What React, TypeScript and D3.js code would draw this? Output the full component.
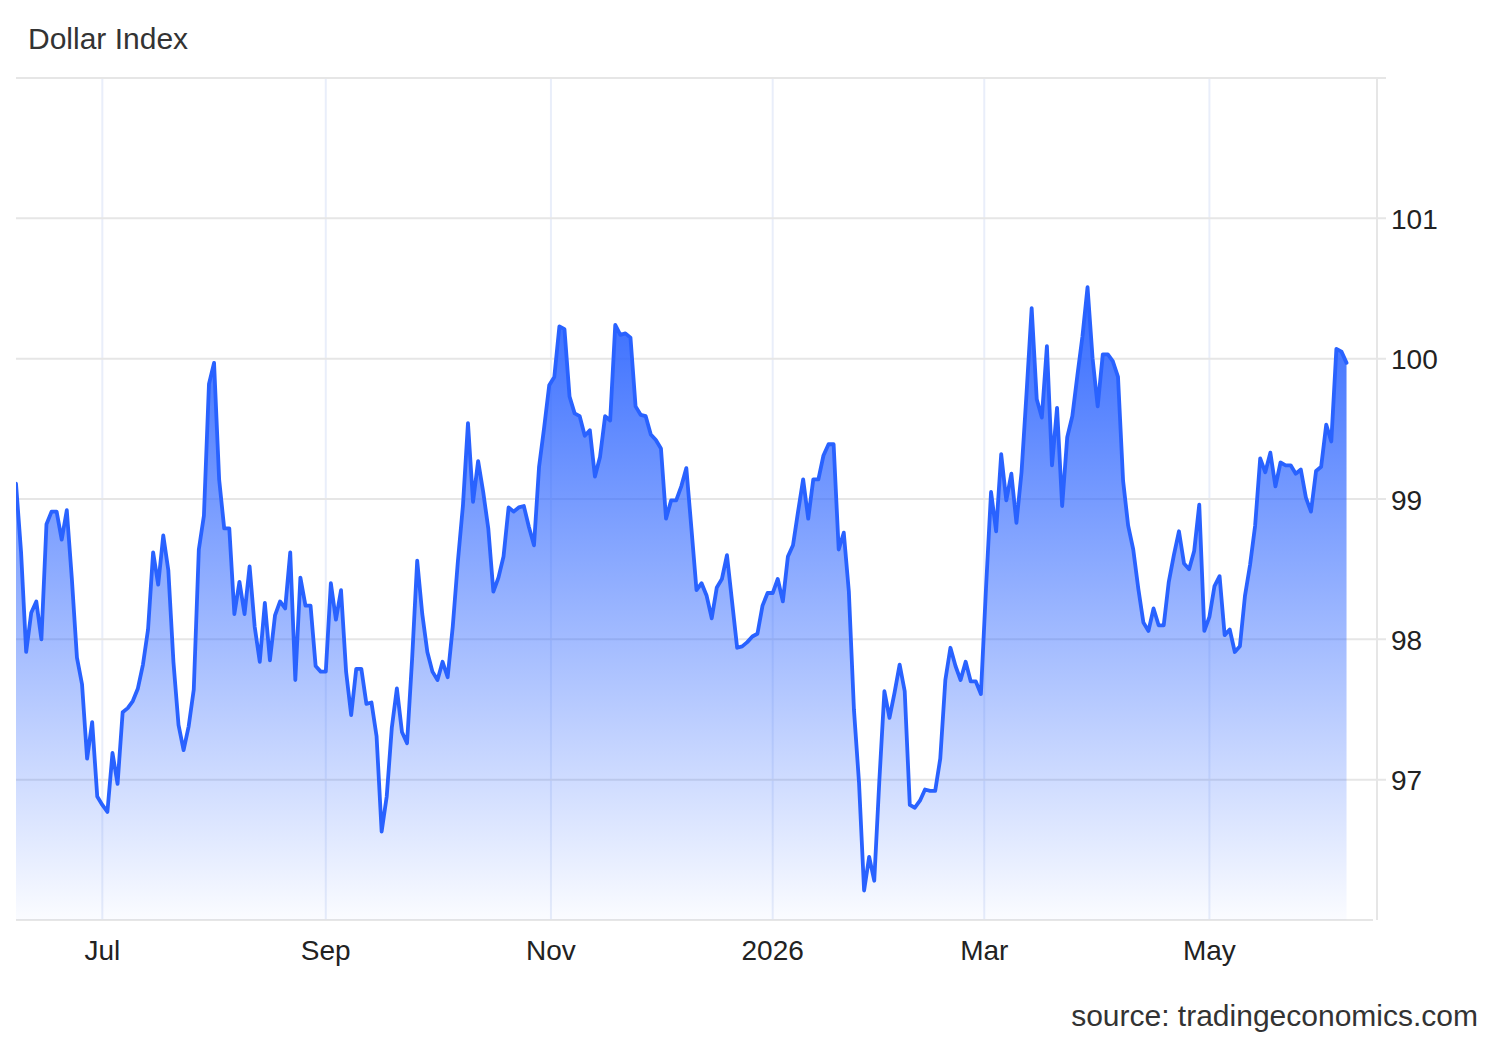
import * as d3 from "d3";

const title = "Dollar Index";
const source = "source: tradingeconomics.com";

// first session on screen; each value after it is the next weekday close
const firstSession = new Date(2025, 5, 6);

const juneToSeptember = [
  99.11, 98.62, 97.91, 98.19, 98.27, 98.0, 98.82, 98.91, 98.91, 98.71,
  98.92, 98.43, 97.87, 97.68, 97.15, 97.41, 96.88, 96.82, 96.77, 97.19,
  96.97, 97.48, 97.51, 97.56, 97.65, 97.82, 98.07, 98.62, 98.39, 98.74,
  98.49, 97.84, 97.39, 97.21, 97.38, 97.64, 98.64, 98.88, 99.82, 99.97,
  99.14, 98.79, 98.79, 98.18, 98.41, 98.18, 98.52, 98.09, 97.84, 98.26,
  97.85, 98.17, 98.27, 98.22, 98.62, 97.71, 98.44, 98.24, 98.24, 97.81,
  97.77, 97.77, 98.4, 98.14, 98.35, 97.77,
];

const septemberToDecember = [
  97.46, 97.79, 97.79, 97.54, 97.55, 97.31, 96.63, 96.88, 97.37, 97.65,
  97.34, 97.26, 97.86, 98.56, 98.18, 97.91, 97.77, 97.71, 97.84, 97.73,
  98.09, 98.55, 98.95, 99.54, 98.98, 99.27, 99.05, 98.79, 98.34, 98.44,
  98.59, 98.94, 98.91, 98.94, 98.95, 98.8, 98.67, 99.23, 99.51, 99.81,
  99.87, 100.23, 100.21, 99.73, 99.61, 99.59, 99.45, 99.49, 99.16, 99.3,
  99.59, 99.56, 100.24, 100.17, 100.18, 100.15, 99.66, 99.6, 99.59, 99.46,
  99.42, 99.36, 98.86, 98.99, 98.99, 99.09,
];

const decemberToMarch = [
  99.22, 98.79, 98.35, 98.4, 98.31, 98.15, 98.37, 98.43, 98.6, 98.27,
  97.94, 97.95, 97.98, 98.02, 98.04, 98.24, 98.33, 98.33, 98.43, 98.27,
  98.59, 98.67, 98.91, 99.14, 98.86, 99.14, 99.14, 99.31, 99.39, 99.39,
  98.64, 98.76, 98.34, 97.5, 96.98, 96.21, 96.45, 96.28, 96.99, 97.63,
  97.44, 97.62, 97.82, 97.63, 96.82, 96.8, 96.85, 96.93, 96.92, 96.92,
  97.15, 97.71, 97.94, 97.81, 97.71, 97.84, 97.7, 97.7, 97.61, 98.36,
  99.05, 98.77, 99.32, 98.99, 99.18, 98.83,
];

const marchToJune = [
  99.19, 99.76, 100.36, 99.71, 99.58, 100.09, 99.24, 99.65, 98.95, 99.44,
  99.59, 99.88, 100.16, 100.51, 100.0, 99.66, 100.03, 100.03, 99.98, 99.87,
  99.13, 98.81, 98.64, 98.36, 98.12, 98.06, 98.22, 98.1, 98.1, 98.41,
  98.6, 98.77, 98.54, 98.5, 98.63, 98.96, 98.06, 98.16, 98.38, 98.45,
  98.03, 98.07, 97.91, 97.95, 98.31, 98.53, 98.81, 99.29, 99.19, 99.33,
  99.09, 99.26, 99.24, 99.24, 99.18, 99.21, 99.01, 98.91, 99.2, 99.23,
  99.53, 99.41, 100.07, 100.05, 99.97,
];

const closes = [
  ...juneToSeptember,
  ...septemberToDecember,
  ...decemberToMarch,
  ...marchToJune,
];

const yGrid = [97, 98, 99, 100, 101, 102];
const yLabels = ["97", "98", "99", "100", "101"];
const monthTicks = [
  new Date(2025, 6, 1),
  new Date(2025, 8, 1),
  new Date(2025, 10, 1),
  new Date(2026, 0, 1),
  new Date(2026, 2, 1),
  new Date(2026, 4, 1),
];
const monthLabels = ["Jul", "Sep", "Nov", "2026", "Mar", "May"];

const width = 1500;
const height = 1040;
const plot = { left: 16, right: 1377, top: 78, bottom: 920 };
const font = "'Liberation Sans', Arial, sans-serif";
const blue = "#2962ff";

// weekdays only, the axis is ordinal (no gaps for weekends)
function weekdays(start: Date, n: number) {
  const out: Date[] = [];
  let d = start;
  while (out.length < n) {
    if (d.getDay() !== 0 && d.getDay() !== 6) out.push(d);
    d = d3.timeDay.offset(d, 1);
  }
  return out;
}

// fractional session index for a calendar date
function sessionIndex(dates: Date[], day: Date) {
  const i = d3.bisectLeft(dates, day);
  if (i <= 0) return 0;
  if (i >= dates.length) return dates.length - 1;
  const a = +dates[i - 1];
  const b = +dates[i];
  return i - 1 + (+day - a) / (b - a);
}

export default function App() {
  const dates = weekdays(firstSession, closes.length);
  const points = closes.map((v, i) => ({ i, v }));

  const x = d3
    .scaleLinear()
    .domain([0, closes.length - 1 + 6])
    .range([plot.left, plot.right]);
  const y = d3.scaleLinear().domain([96, 102]).range([plot.bottom, plot.top]);

  const line = d3
    .line<{ i: number; v: number }>()
    .x((d) => x(d.i))
    .y((d) => y(d.v));
  const area = d3
    .area<{ i: number; v: number }>()
    .x((d) => x(d.i))
    .y0(y(96))
    .y1((d) => y(d.v));

  const top = y(d3.max(closes)!);

  return (
    <svg
      width={width}
      height={height}
      style={{ position: "absolute", left: 0, top: 0, background: "#fff" }}
      fontFamily={font}
    >
      <defs>
        <linearGradient
          id="fill"
          gradientUnits="userSpaceOnUse"
          x1={0}
          x2={0}
          y1={top}
          y2={plot.bottom}
        >
          <stop offset="0%" stopColor={blue} stopOpacity={0.95} />
          <stop offset="100%" stopColor={blue} stopOpacity={0.02} />
        </linearGradient>
        <clipPath id="plot">
          <rect
            x={plot.left}
            y={plot.top}
            width={plot.right - plot.left}
            height={plot.bottom - plot.top}
          />
        </clipPath>
      </defs>

      <text x={28} y={49} fontSize={30} fill="#333">
        {title}
      </text>

      {monthTicks.map((m, k) => {
        const px = x(sessionIndex(dates, m));
        return (
          <g key={k}>
            <line
              x1={px}
              x2={px}
              y1={plot.top}
              y2={plot.bottom}
              stroke="#e9eefa"
              strokeWidth={2}
            />
            <text
              x={px}
              y={960}
              fontSize={28}
              fill="#222"
              textAnchor="middle"
            >
              {monthLabels[k]}
            </text>
          </g>
        );
      })}

      {yGrid.map((v, k) => (
        <g key={v}>
          <line
            x1={plot.left}
            x2={plot.right + 9}
            y1={y(v)}
            y2={y(v)}
            stroke="#e6e6e6"
            strokeWidth={2}
          />
          {yLabels[k] && (
            <text
              x={1391}
              y={y(v) + 1}
              fontSize={28}
              fill="#222"
              dominantBaseline="central"
            >
              {yLabels[k]}
            </text>
          )}
        </g>
      ))}

      <line
        x1={plot.left}
        x2={plot.right - 4}
        y1={plot.bottom}
        y2={plot.bottom}
        stroke="#e6e6e6"
        strokeWidth={2}
      />
      <line
        x1={plot.right}
        x2={plot.right}
        y1={plot.top}
        y2={plot.bottom}
        stroke="#e6e6e6"
        strokeWidth={2}
      />

      <g clipPath="url(#plot)">
        <path d={area(points)!} fill="url(#fill)" />
        <path
          d={line(points)!}
          fill="none"
          stroke={blue}
          strokeWidth={3.8}
          strokeLinejoin="round"
          strokeLinecap="round"
        />
      </g>

      <text
        x={1478}
        y={1026}
        fontSize={30}
        fill="#333"
        textAnchor="end"
      >
        {source}
      </text>
    </svg>
  );
}
